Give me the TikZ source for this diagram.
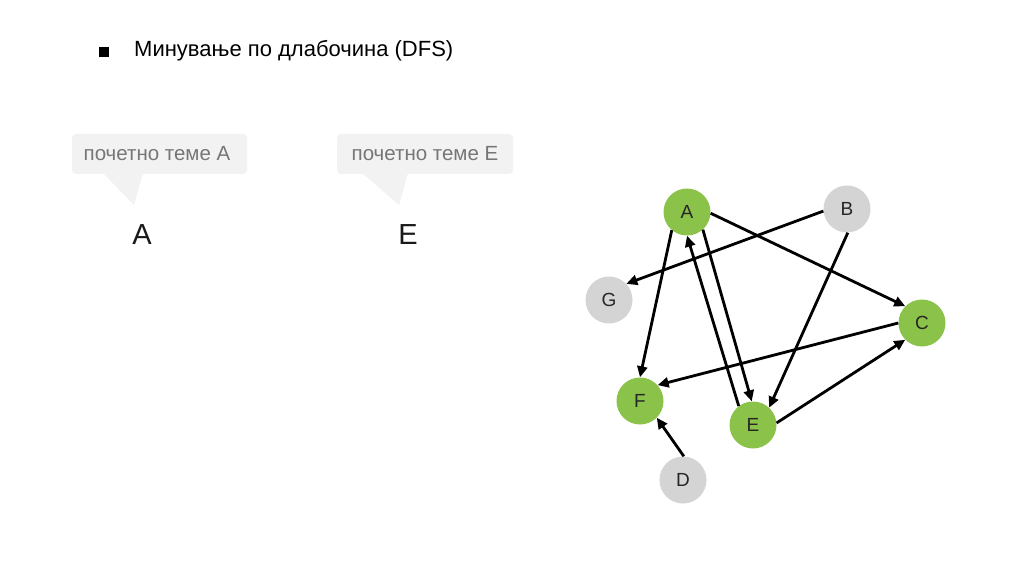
\documentclass[tikz,border=0pt]{standalone}
\usepackage{fontspec}
\setmainfont{Liberation Sans}
\usetikzlibrary{arrows.meta}
\definecolor{vgreen}{HTML}{8BC34A}
\definecolor{vgray}{HTML}{D4D4D4}
\definecolor{cfill}{HTML}{F2F2F2}
\definecolor{ctext}{HTML}{767676}
\tikzset{
  vtx/.style={circle,minimum size=47pt,inner sep=0pt,font=\fontsize{19}{19}\selectfont,text=black!85},
  visited/.style={vtx,fill=vgreen},
  unvisited/.style={vtx,fill=vgray},
  edge/.style={line width=2.8pt,-{Triangle[length=11pt,width=10pt]}},
  callout/.style={fill=cfill,rounded corners=4pt},
  calltext/.style={text=ctext,font=\fontsize{20.5}{20.5}\selectfont},
  bigletter/.style={font=\fontsize{29}{29}\selectfont,text=black!90},
}
\begin{document}
\begin{tikzpicture}[x=1pt,y=-1pt]
\useasboundingbox[fill=white] (0,0) rectangle (1033,588);
% title
\node[fill=black,minimum size=10pt,inner sep=0pt] (bullet) at (103.5,52) {};
\node[anchor=base west,inner sep=0pt,font=\fontsize{22}{22}\selectfont] (title) at (134,57) {Минување по длабочина (DFS)};
% callout 1
\fill[callout] (72,134) rectangle (247,174);
\fill[cfill] (103,173) -- (143,173) -- (134,205) -- cycle;
\node[calltext] (c1) at (157,154) {почетно теме А};
\node[bigletter] (l1) at (142,235) {A};
% callout 2
\fill[callout] (337,134) rectangle (513,174);
\fill[cfill] (362,173) -- (408,173) -- (399,205) -- cycle;
\node[calltext] (c2) at (425,154) {почетно теме Е};
\node[bigletter] (l2) at (408,235) {E};
% graph
\node[visited] (A) at (687,212) {A};
\node[unvisited] (B) at (847,209) {B};
\node[unvisited] (G) at (609,300) {G};
\node[visited] (C) at (922,323) {C};
\node[visited] (F) at (640,401) {F};
\node[visited] (E) at (753,425) {E};
\node[unvisited] (D) at (683,480) {D};
\draw[edge] (A.-3) -- (C.135);
\draw[edge] (A.-130) -- (F.90);
\draw[edge] (A.-48) -- (E.93);
\draw[edge] (E.127) -- (A.-90);
\draw[edge] (B.185) -- (G.43);
\draw[edge] (B.-88) -- (E.47);
\draw[edge] (C.180) -- (F.42);
\draw[edge] (E.5) -- (C.-135);
\draw[edge] (D.88) -- (F.-45);
\end{tikzpicture}
\end{document}
